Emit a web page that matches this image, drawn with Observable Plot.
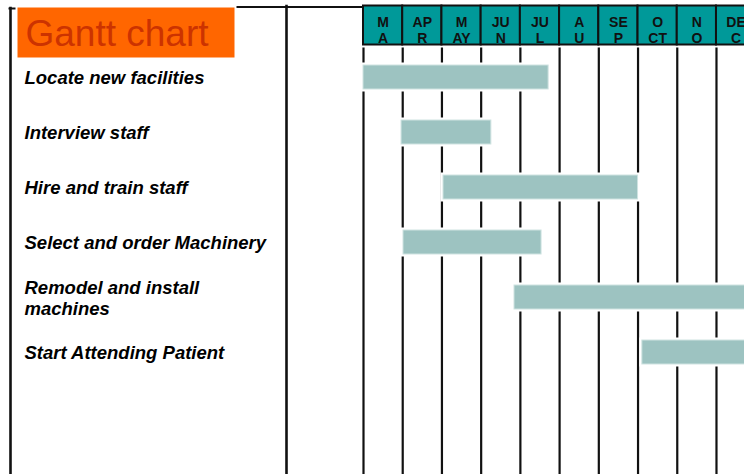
<!DOCTYPE html>
<html>
<head>
<meta charset="utf-8">
<script src="https://cdn.jsdelivr.net/npm/d3@7"></script>
<script src="https://cdn.jsdelivr.net/npm/@observablehq/plot@0.6"></script>
<style>
  html, body { margin: 0; padding: 0; background: #fff; }
  #chart { width: 744px; height: 474px; overflow: hidden; }
</style>
</head>
<body>
<div id="chart"></div>
<script>
// Month header labels (as split in the original cells)
const months = ["M\nA", "AP\nR", "M\nAY", "JU\nN", "JU\nL", "A\nU", "SE\nP", "O\nCT", "N\nO", "DE\nC"];
// Tasks
const tasks = [
  "Locate new facilities",
  "Interview staff",
  "Hire and train staff",
  "Select and order Machinery",
  "Remodel and install\nmachines",
  "Start Attending Patient"
];
// Start / end in months from beginning of March
const starts = [0, 0.97, 2.04, 1.02, 3.85, 7.11];
const ends   = [4.72, 3.26, 7.0, 4.54, 10, 10];
const title = "Gantt chart";

const W = 744, H = 474;
const rows = tasks.map((t, i) => ({task: t, start: starts[i], end: ends[i]}));
const cells = months.map((m, i) => ({label: m, i}));
const boundaries = d3.range(0, months.length + 1);

const plot = Plot.plot({
  width: W,
  height: H,
  margin: 0,
  style: {background: "white", fontFamily: "'Liberation Sans', Arial, sans-serif"},
  x: {domain: [0, months.length], range: [363, 363 + 39.22 * months.length], axis: null},
  y: {type: "band", domain: tasks, range: [46.5, 382], paddingInner: 0.56, paddingOuter: 0.28, axis: null},
  marks: [
    // outer structure lines
    Plot.frame({anchor: "left", insetLeft: 10, insetTop: 7.5, insetBottom: -5, stroke: "#111", strokeWidth: 2.6}),
    Plot.frame({anchor: "top", insetLeft: 9, insetRight: W - 14, insetTop: 8, stroke: "#111", strokeWidth: 2}),
    Plot.frame({anchor: "top", insetLeft: 237, insetRight: -20, insetTop: 6.5, stroke: "#111", strokeWidth: 2}),
    Plot.frame({anchor: "left", insetLeft: 286, insetTop: 5.5, insetBottom: -5, stroke: "#111", strokeWidth: 2.6}),
    // title box
    Plot.frame({fill: "#ff6600", stroke: "none", insetLeft: 17, insetTop: 7, insetRight: W - 234, insetBottom: H - 57}),
    Plot.text([title], {frameAnchor: "top-left", dx: 25, dy: 19, lineAnchor: "top", textAnchor: "start",
      fontSize: 37, fill: "#cc3300"}),
    // header cells
    Plot.rect(cells, {x1: d => d.i, x2: d => d.i + 1, insetTop: 5.5, insetBottom: H - 44.5,
      fill: "#009999", stroke: "#111", strokeWidth: 2}),
    Plot.text(cells, {x: d => d.i + 0.5, text: "label", frameAnchor: "top", lineAnchor: "top", dy: 15,
      fontSize: 14, fontWeight: "bold", lineHeight: 1.15, fill: "#111"}),
    // month grid lines
    Plot.ruleX(boundaries, {x: d => d, insetTop: 47.5, insetBottom: -5, stroke: "#111", strokeWidth: 2.2}),
    // bars: white halo then bar
    Plot.barX(rows, {x1: "start", x2: "end", y: "task", fill: "white", stroke: "white", strokeWidth: 5}),
    Plot.barX(rows, {x1: "start", x2: "end", y: "task", fill: "#9dc3c1", stroke: "#cfe3e1", strokeWidth: 1}),
    // task labels
    Plot.text(rows, {y: "task", text: "task", frameAnchor: "left", dx: 24, textAnchor: "start",
      lineAnchor: "middle", fontSize: 18.5, fontWeight: "bold", fontStyle: "italic", lineHeight: 1.12, fill: "#000"})
  ]
});
document.getElementById("chart").appendChild(plot);
</script>
</body>
</html>
